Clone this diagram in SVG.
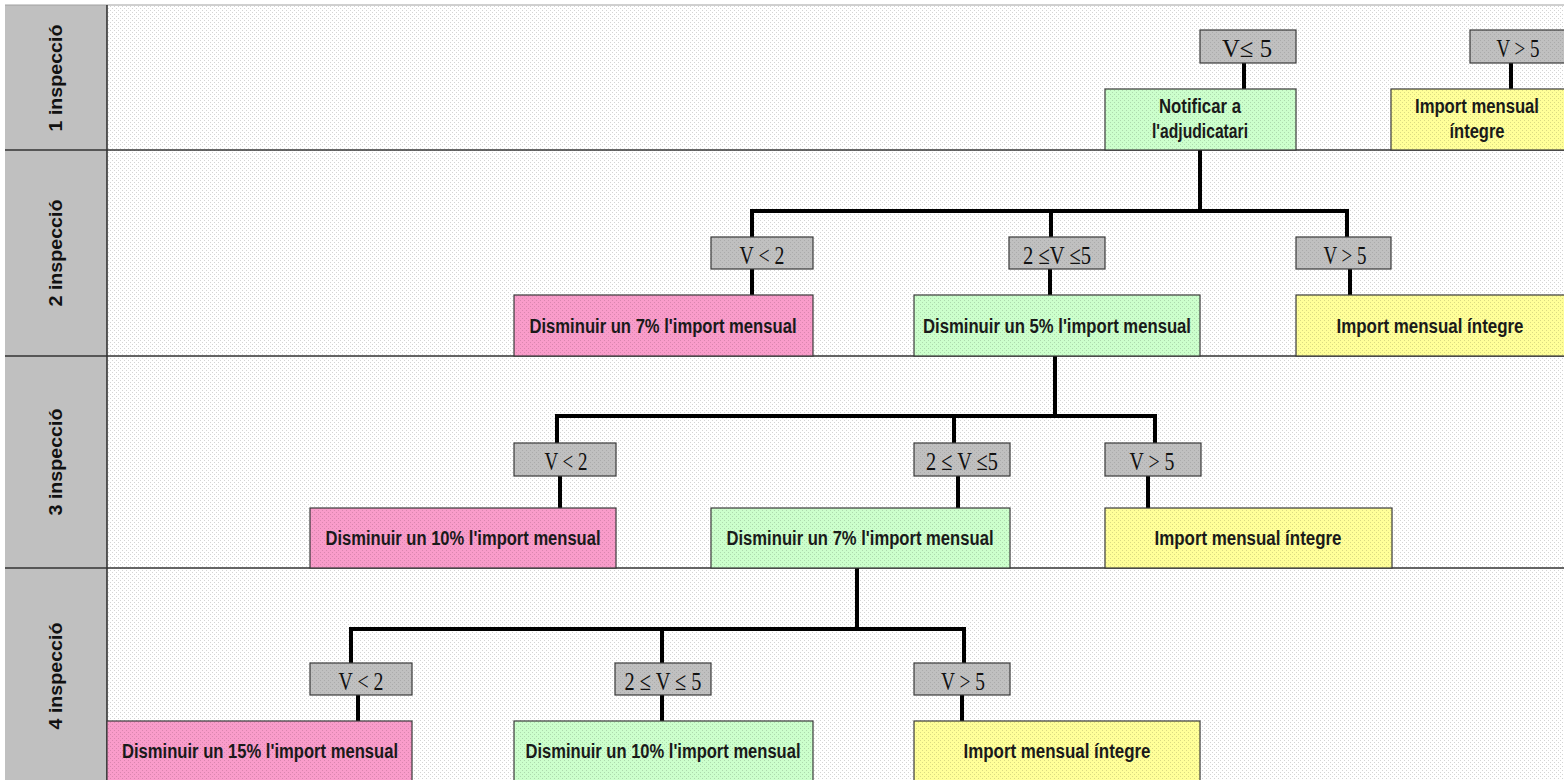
<svg xmlns="http://www.w3.org/2000/svg" width="1564" height="780" viewBox="0 0 1564 780">
<defs>
<pattern id="pW" width="4" height="4" patternUnits="userSpaceOnUse"><rect width="4" height="4" fill="#ffffff"/><rect width="1" height="1" fill="#d4d4d4"/><rect x="2" y="2" width="1" height="1" fill="#d4d4d4"/></pattern>
<pattern id="pG" width="4" height="4" patternUnits="userSpaceOnUse"><rect width="4" height="4" fill="#ccffcc"/><rect width="1" height="1" fill="#add9ad"/><rect x="2" y="2" width="1" height="1" fill="#add9ad"/></pattern>
<pattern id="pP" width="4" height="4" patternUnits="userSpaceOnUse"><rect width="4" height="4" fill="#f99cca"/><rect width="1" height="1" fill="#da86af"/><rect x="2" y="2" width="1" height="1" fill="#da86af"/></pattern>
<pattern id="pY" width="4" height="4" patternUnits="userSpaceOnUse"><rect width="4" height="4" fill="#ffff99"/><rect width="1" height="1" fill="#dada82"/><rect x="2" y="2" width="1" height="1" fill="#dada82"/></pattern>
<pattern id="pC" width="4" height="4" patternUnits="userSpaceOnUse"><rect width="4" height="4" fill="#c0c0c0"/><rect width="1" height="1" fill="#ababab"/><rect x="2" y="2" width="1" height="1" fill="#ababab"/></pattern>
</defs>
<style>
.cond{fill:url(#pC);stroke:#3a3a3a;stroke-width:1.2}
.green{fill:url(#pG);stroke:#3a3a3a;stroke-width:1.2}
.pink{fill:url(#pP);stroke:#3a3a3a;stroke-width:1.2}
.yellow{fill:url(#pY);stroke:#3a3a3a;stroke-width:1.2}
.ct{font-family:"Liberation Serif","Times New Roman",serif;font-size:26px;fill:#111;text-anchor:middle}
.nt{font-family:"Liberation Sans Narrow","Arial Narrow","Liberation Sans",Arial,sans-serif;font-weight:bold;font-size:20px;fill:#1a1a1a;text-anchor:middle}
.rl{font-family:"Liberation Sans",Arial,sans-serif;font-weight:bold;font-size:19px;fill:#111;text-anchor:middle}
.sep{stroke:#333;stroke-width:1.6;fill:none}
.wire{stroke:#000;stroke-width:4;fill:none;stroke-linecap:butt;stroke-linejoin:miter}
</style>
<rect width="1564" height="780" fill="#ffffff"/>
<g id="background">
<rect x="107" y="5" width="1457" height="775" fill="url(#pW)"/>
<rect x="5" y="5" width="102" height="775" fill="#c0c0c0"/>
<line x1="5" y1="5" x2="1564" y2="5" stroke="#a0a0a0" stroke-width="1"/>
<line class="sep" x1="107" y1="5" x2="107" y2="780"/>
<line class="sep" x1="5" y1="150" x2="1564" y2="150"/>
<line class="sep" x1="5" y1="356" x2="1564" y2="356"/>
<line class="sep" x1="5" y1="568" x2="1564" y2="568"/>
</g>
<g id="row-labels">
<text class="rl" transform="translate(62,78) rotate(-90)" textLength="107" lengthAdjust="spacingAndGlyphs">1 inspecció</text>
<text class="rl" transform="translate(62,253) rotate(-90)" textLength="107" lengthAdjust="spacingAndGlyphs">2 inspecció</text>
<text class="rl" transform="translate(62,462) rotate(-90)" textLength="107" lengthAdjust="spacingAndGlyphs">3 inspecció</text>
<text class="rl" transform="translate(62,676) rotate(-90)" textLength="107" lengthAdjust="spacingAndGlyphs">4 inspecció</text>
</g>
<g id="connectors">
<line class="wire" x1="1244" y1="63" x2="1244" y2="89"/>
<line class="wire" x1="1511" y1="63" x2="1511" y2="89"/>
<path class="wire" d="M1200 150 V211 M752 237 V211 H1347 V237 M1051 211 V237"/>
<line class="wire" x1="752" y1="269" x2="752" y2="295"/>
<line class="wire" x1="1050" y1="269" x2="1050" y2="295"/>
<line class="wire" x1="1350" y1="269" x2="1350" y2="295"/>
<path class="wire" d="M1055 356 V416 M557 443 V416 H1155 V443 M954 416 V443"/>
<line class="wire" x1="560" y1="476" x2="560" y2="508"/>
<line class="wire" x1="958" y1="476" x2="958" y2="508"/>
<line class="wire" x1="1148" y1="476" x2="1148" y2="508"/>
<path class="wire" d="M857 568 V629 M351 663 V629 H964 V663 M662 629 V663"/>
<line class="wire" x1="358" y1="695" x2="358" y2="721"/>
<line class="wire" x1="662" y1="695" x2="662" y2="721"/>
<line class="wire" x1="962" y1="695" x2="962" y2="721"/>
</g>
<g id="c1a"><rect class="cond" x="1200" y="30" width="96" height="33"/><text class="ct" x="1247" y="57" textLength="50" lengthAdjust="spacingAndGlyphs">V≤ 5</text></g>
<g id="c1b"><rect class="cond" x="1470" y="30" width="100" height="33"/><text class="ct" x="1518" y="57" textLength="43" lengthAdjust="spacingAndGlyphs">V &gt; 5</text></g>
<g id="n1a"><rect class="green" x="1105" y="89" width="191" height="61"/><text class="nt" x="1200" y="113" textLength="82" lengthAdjust="spacingAndGlyphs">Notificar a</text><text class="nt" x="1200" y="138" textLength="96" lengthAdjust="spacingAndGlyphs">l'adjudicatari</text></g>
<g id="n1b"><rect class="yellow" x="1391" y="89" width="179" height="61"/><text class="nt" x="1477" y="113" textLength="124" lengthAdjust="spacingAndGlyphs">Import mensual</text><text class="nt" x="1477" y="138" textLength="55" lengthAdjust="spacingAndGlyphs">íntegre</text></g>
<g id="c2a"><rect class="cond" x="711" y="237" width="102" height="32"/><text class="ct" x="762" y="263.5" textLength="45" lengthAdjust="spacingAndGlyphs">V &lt; 2</text></g>
<g id="c2b"><rect class="cond" x="1009" y="237" width="96" height="32"/><text class="ct" x="1057" y="263.5" textLength="68" lengthAdjust="spacingAndGlyphs">2 ≤V ≤5</text></g>
<g id="c2c"><rect class="cond" x="1296" y="237" width="95" height="32"/><text class="ct" x="1345" y="263.5" textLength="43" lengthAdjust="spacingAndGlyphs">V &gt; 5</text></g>
<g id="n2a"><rect class="pink" x="514" y="295" width="299" height="61"/><text class="nt" x="663" y="333" textLength="267" lengthAdjust="spacingAndGlyphs">Disminuir un 7% l'import mensual</text></g>
<g id="n2b"><rect class="green" x="914" y="295" width="286" height="61"/><text class="nt" x="1057" y="333" textLength="268" lengthAdjust="spacingAndGlyphs">Disminuir un 5% l'import mensual</text></g>
<g id="n2c"><rect class="yellow" x="1296" y="295" width="274" height="61"/><text class="nt" x="1430" y="333" textLength="187" lengthAdjust="spacingAndGlyphs">Import mensual íntegre</text></g>
<g id="c3a"><rect class="cond" x="514" y="443" width="102" height="33"/><text class="ct" x="566" y="470" textLength="43" lengthAdjust="spacingAndGlyphs">V &lt; 2</text></g>
<g id="c3b"><rect class="cond" x="914" y="443" width="96" height="33"/><text class="ct" x="962" y="470" textLength="72" lengthAdjust="spacingAndGlyphs">2 ≤ V ≤5</text></g>
<g id="c3c"><rect class="cond" x="1105" y="443" width="96" height="33"/><text class="ct" x="1152" y="470" textLength="45" lengthAdjust="spacingAndGlyphs">V &gt; 5</text></g>
<g id="n3a"><rect class="pink" x="310" y="508" width="306" height="60"/><text class="nt" x="463" y="545" textLength="275" lengthAdjust="spacingAndGlyphs">Disminuir un 10% l'import mensual</text></g>
<g id="n3b"><rect class="green" x="711" y="508" width="299" height="60"/><text class="nt" x="860" y="545" textLength="267" lengthAdjust="spacingAndGlyphs">Disminuir un 7% l'import mensual</text></g>
<g id="n3c"><rect class="yellow" x="1105" y="508" width="287" height="60"/><text class="nt" x="1248" y="545" textLength="187" lengthAdjust="spacingAndGlyphs">Import mensual íntegre</text></g>
<g id="c4a"><rect class="cond" x="310" y="663" width="102" height="32"/><text class="ct" x="361" y="689.5" textLength="45" lengthAdjust="spacingAndGlyphs">V &lt; 2</text></g>
<g id="c4b"><rect class="cond" x="615" y="663" width="96" height="32"/><text class="ct" x="663" y="689.5" textLength="77" lengthAdjust="spacingAndGlyphs">2 ≤ V ≤ 5</text></g>
<g id="c4c"><rect class="cond" x="914" y="663" width="96" height="32"/><text class="ct" x="963" y="689.5" textLength="44" lengthAdjust="spacingAndGlyphs">V &gt; 5</text></g>
<g id="n4a"><rect class="pink" x="107" y="721" width="305" height="62"/><text class="nt" x="260" y="758" textLength="276" lengthAdjust="spacingAndGlyphs">Disminuir un 15% l'import mensual</text></g>
<g id="n4b"><rect class="green" x="514" y="721" width="299" height="62"/><text class="nt" x="663" y="758" textLength="275" lengthAdjust="spacingAndGlyphs">Disminuir un 10% l'import mensual</text></g>
<g id="n4c"><rect class="yellow" x="914" y="721" width="286" height="62"/><text class="nt" x="1057" y="758" textLength="187" lengthAdjust="spacingAndGlyphs">Import mensual íntegre</text></g>
</svg>
